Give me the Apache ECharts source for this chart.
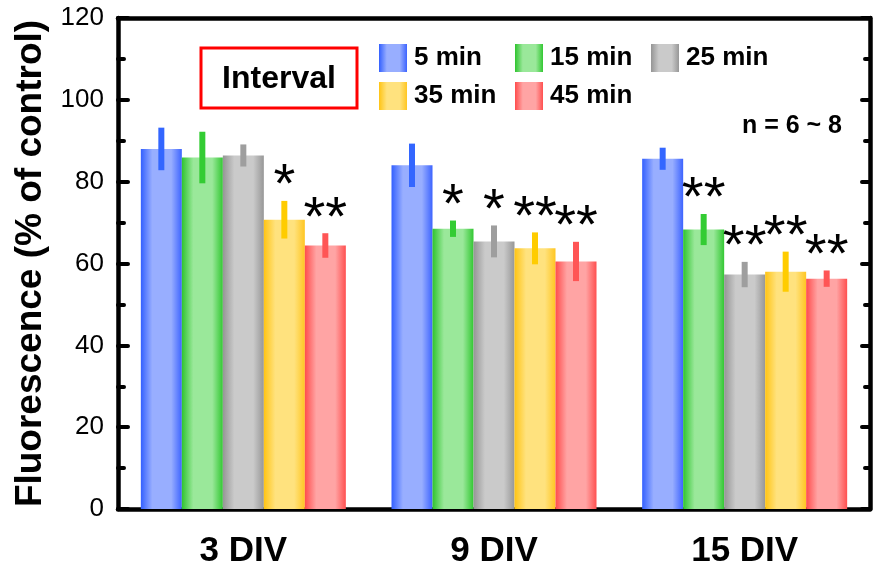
<!DOCTYPE html>
<html>
<head>
<meta charset="utf-8">
<script src="https://cdn.jsdelivr.net/npm/echarts@6/dist/echarts.min.js"></script>
<style>
  html, body { margin: 0; padding: 0; background: #fff; }
  #chart { width: 874px; height: 570px; }
</style>
</head>
<body>
<div id="chart"></div>
<script>
// Categories (days in vitro) and stimulation intervals
const categories = ['3 DIV', '9 DIV', '15 DIV'];
const intervals = ['5 min', '15 min', '25 min', '35 min', '45 min'];

// Mean fluorescence (% of control) per interval, one value per DIV group
const mean5  = [88.0, 84.0, 85.6];
const mean15 = [85.9, 68.5, 68.3];
const mean25 = [86.4, 65.4, 57.3];
const mean35 = [70.7, 63.7, 58.0];
const mean45 = [64.4, 60.5, 56.3];

// Error (SEM) per interval
const err5  = [5.2, 5.3, 2.7];
const err15 = [6.3, 2.0, 3.8];
const err25 = [2.7, 3.9, 3.1];
const err35 = [4.6, 3.9, 4.9];
const err45 = [3.0, 4.8, 2.0];

// Significance markers
const sig5  = ['', '', ''];
const sig15 = ['', '*', '**'];
const sig25 = ['', '*', '**'];
const sig35 = ['*', '**', '**'];
const sig45 = ['**', '**', '**'];

// Value axis ticks
const yMin = 0, yMax = 120, yStep = 20;

const FONT = '"Liberation Sans", Arial, Helvetica, sans-serif';
const BAR_W = 41;

const palette = [
  { edgeL: '#3360ff', mid: '#98aeff', edgeR: '#3d64ff', err: '#3366ff' },
  { edgeL: '#2fc42f', mid: '#9ae89a', edgeR: '#33c833', err: '#33cc33' },
  { edgeL: '#959595', mid: '#cacaca', edgeR: '#979797', err: '#9e9e9e' },
  { edgeL: '#ffc414', mid: '#ffe27e', edgeR: '#ffc622', err: '#ffcc00' },
  { edgeL: '#ff4c4c', mid: '#ffa4a4', edgeR: '#ff5050', err: '#ff5555' }
];

const means = [mean5, mean15, mean25, mean35, mean45];
const errs = [err5, err15, err25, err35, err45];
const sigs = [sig5, sig15, sig25, sig35, sig45];

function grad(p) {
  return new echarts.graphic.LinearGradient(0, 0, 1, 0, [
    { offset: 0, color: p.edgeL },
    { offset: 0.28, color: p.mid },
    { offset: 0.74, color: p.mid },
    { offset: 1, color: p.edgeR }
  ]);
}

const series = [];
intervals.forEach((name, k) => {
  series.push({
    name: name,
    type: 'bar',
    xAxisIndex: 0,
    yAxisIndex: 0,
    barWidth: BAR_W,
    barGap: '0%',
    itemStyle: { color: grad(palette[k]) },
    data: means[k],
    z: 2
  });
});

intervals.forEach((name, k) => {
  const rows = categories.map((c, i) => [i, means[k][i], errs[k][i]]);
  series.push({
    type: 'custom',
    xAxisIndex: 0,
    yAxisIndex: 0,
    z: 5,
    silent: true,
    data: rows,
    encode: { x: 0, y: 1 },
    renderItem: function (params, api) {
      const i = api.value(0);
      const m = api.value(1);
      const e = api.value(2);
      const s = sigs[k][params.dataIndex];
      const hi = api.coord([i, m + e]);
      const lo = api.coord([i, m - e]);
      const x = hi[0] + (k - 2) * BAR_W;
      const children = [{
        type: 'rect',
        shape: { x: x - 3, y: hi[1], width: 6, height: lo[1] - hi[1] },
        style: { fill: palette[k].err }
      }];
      if (s) {
        children.push({
          type: 'text',
          x: x,
          y: hi[1] + 14,
          style: {
            text: s,
            fontSize: 56,
            fontFamily: FONT,
            fill: '#000',
            align: 'center',
            verticalAlign: 'bottom'
          }
        });
      }
      return { type: 'group', children: children };
    }
  });
});

// One legend block per entry, laid out in a 3 + 2 grid
const legendPos = [
  { left: 379, top: 44 }, { left: 515, top: 44 }, { left: 651, top: 44 },
  { left: 379, top: 82 }, { left: 515, top: 82 }
];
const legends = intervals.map((name, k) => ({
  data: [name],
  left: legendPos[k].left,
  top: legendPos[k].top,
  padding: 0,
  icon: 'rect',
  itemWidth: 28,
  itemHeight: 28,
  itemGap: 8,
  selectedMode: false,
  textStyle: { fontSize: 26, fontWeight: 'bold', color: '#000', fontFamily: FONT, padding: [0, 0, 0, 2] }
}));

const axisLine = { show: true, onZero: false, lineStyle: { color: '#000', width: 4.5, cap: 'round' } };

const option = {
  animation: false,
  backgroundColor: '#fff',
  grid: { left: 118, right: 4, top: 18, bottom: 61 },
  legend: legends,
  xAxis: [
    {
      type: 'category', data: categories, position: 'bottom',
      axisLine: axisLine,
      axisTick: { inside: true, length: 7, lineStyle: { color: '#000', width: 4, cap: 'round' } },
      axisLabel: { fontSize: 35, fontWeight: 'bold', color: '#000', fontFamily: FONT, margin: 25 },
      splitLine: { show: false }
    },
    {
      type: 'category', data: categories, position: 'bottom',
      axisLine: { show: false },
      axisTick: { alignWithLabel: true, length: 3, lineStyle: { color: '#000', width: 2 } },
      axisLabel: { show: false },
      splitLine: { show: false }
    },
    {
      type: 'category', data: categories, position: 'top',
      axisLine: axisLine,
      axisTick: { inside: true, length: 5, lineStyle: { color: '#000', width: 4, cap: 'round' } },
      axisLabel: { show: false },
      splitLine: { show: false }
    }
  ],
  yAxis: [
    {
      type: 'value', min: yMin, max: yMax, interval: yStep, position: 'left',
      name: 'Fluorescence (% of control)',
      nameLocation: 'middle', nameGap: 69,
      nameTextStyle: { fontSize: 37, fontWeight: 'bold', color: '#000', fontFamily: FONT },
      axisLine: axisLine,
      axisTick: { show: true, inside: true, length: 10, lineStyle: { color: '#000', width: 4, cap: 'round' } },
      minorTick: { show: true, splitNumber: 2, length: 6, lineStyle: { color: '#000', width: 4, cap: 'round' } },
      axisLabel: { fontSize: 26, color: '#000', fontFamily: FONT, margin: 14 },
      splitLine: { show: false }
    },
    {
      type: 'value', min: yMin, max: yMax, interval: yStep, position: 'right',
      axisLine: axisLine,
      axisTick: { show: true, inside: true, length: 8, lineStyle: { color: '#000', width: 4, cap: 'round' } },
      minorTick: { show: true, splitNumber: 2, length: 5, lineStyle: { color: '#000', width: 4, cap: 'round' } },
      axisLabel: { show: false },
      splitLine: { show: false }
    }
  ],
  graphic: [
    {
      type: 'rect',
      shape: { x: 201, y: 48, width: 156, height: 60 },
      style: { fill: '#fff', stroke: '#ff0000', lineWidth: 3 },
      z: 10
    },
    {
      type: 'text',
      x: 279, y: 79,
      style: { text: 'Interval', fontSize: 32, fontWeight: 'bold', fontFamily: FONT, fill: '#000', align: 'center', verticalAlign: 'middle' },
      z: 11
    },
    {
      type: 'text',
      x: 842, y: 126,
      style: { text: 'n = 6 ~ 8', fontSize: 25, fontWeight: 'bold', fontFamily: FONT, fill: '#000', align: 'right', verticalAlign: 'middle' },
      z: 11
    }
  ],
  series: series
};

const chart = echarts.init(document.getElementById('chart'), null, { renderer: 'canvas' });
chart.setOption(option);
</script>
</body>
</html>
